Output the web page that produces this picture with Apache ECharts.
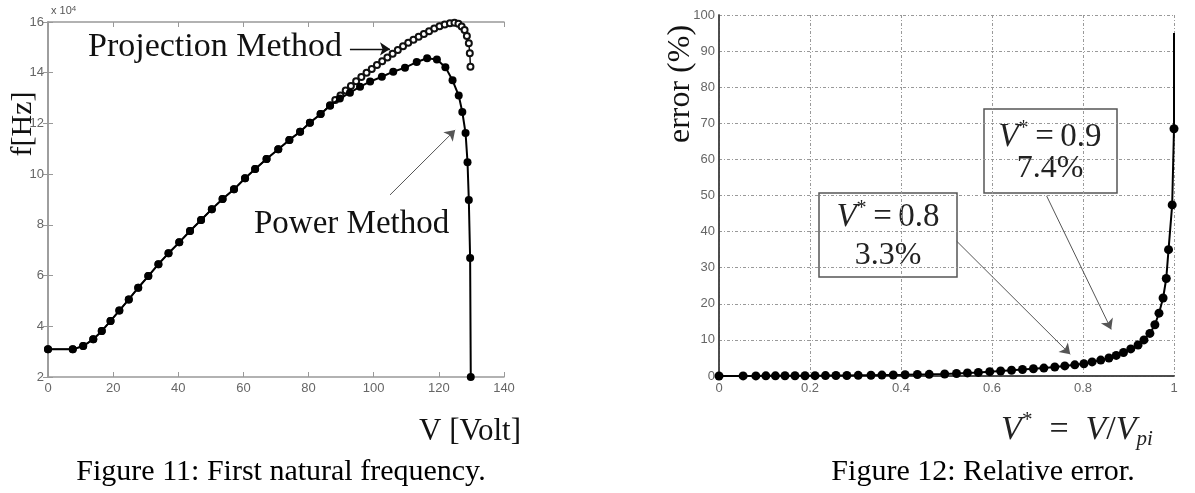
<!DOCTYPE html>
<html>
<head>
<meta charset="utf-8">
<script src="https://cdn.jsdelivr.net/npm/echarts/dist/echarts.min.js"></script>
<style>
html,body{margin:0;padding:0;background:#fff}
#main{width:1195px;height:493px}
</style>
</head>
<body>
<div id="main"></div>
<script>
// Figure 11 : first natural frequency (x 10^4 Hz) against voltage
var powerV = [0, 7.6, 10.8, 13.9, 16.5, 19.2, 21.9, 24.8, 27.7, 30.8, 33.9, 37.0, 40.3, 43.6, 47.0, 50.3, 53.6, 57.1, 60.5, 63.6,
	67.1, 70.7, 74.1, 77.4, 80.4, 83.7, 86.6, 89.6, 92.7, 95.8, 98.9, 102.5, 106.0, 109.6, 113.2, 116.4, 119.4, 122.0, 124.2, 126.1,
	127.2, 128.2, 128.8, 129.2, 129.6, 129.8];
var powerF = [3.09, 3.09, 3.22, 3.49, 3.81, 4.21, 4.62, 5.06, 5.52, 5.98, 6.45, 6.88, 7.31, 7.76, 8.19, 8.62, 9.02, 9.40, 9.84, 10.2,
	10.6, 10.98, 11.35, 11.67, 12.03, 12.37, 12.7, 12.98, 13.21, 13.45, 13.65, 13.84, 14.04, 14.2, 14.42, 14.57, 14.52, 14.22, 13.7, 13.1,
	12.45, 11.62, 10.47, 8.98, 6.69, 2.0];
var projV = [0, 7.6, 10.8, 13.9, 16.5, 19.2, 21.9, 24.8, 27.7, 30.8, 33.9, 37.0, 40.3, 43.6, 47.0, 50.3, 53.6, 57.1, 60.5, 63.6,
	67.1, 70.7, 74.1, 77.4, 80.4, 83.7, 86.6, 88.2, 89.8, 91.4, 93.0, 94.6, 96.2, 97.8, 99.4, 101.0, 102.6, 104.2, 105.8, 107.4,
	109.0, 110.6, 112.2, 113.8, 115.4, 117.0, 118.6, 120.2, 121.8, 123.4, 124.8, 126.0, 127.0, 127.9, 128.6, 129.2, 129.5, 129.7];
var projF = [3.09, 3.09, 3.22, 3.49, 3.81, 4.21, 4.62, 5.06, 5.52, 5.98, 6.45, 6.88, 7.31, 7.76, 8.19, 8.62, 9.02, 9.40, 9.84, 10.2,
	10.6, 10.98, 11.35, 11.67, 12.03, 12.37, 12.72, 12.92, 13.1, 13.3, 13.48, 13.66, 13.83, 14.0, 14.15, 14.3, 14.45, 14.6, 14.75, 14.9,
	15.04, 15.18, 15.3, 15.42, 15.53, 15.64, 15.74, 15.83, 15.9, 15.95, 15.97, 15.93, 15.82, 15.68, 15.45, 15.16, 14.77, 14.24];
var vTicks = [0, 140, 20];
var fTicks = [2, 16, 2];

// Figure 12 : relative error (%) against V* = V/Vpi
var errX = [0, 0.053, 0.081, 0.103, 0.124, 0.145, 0.167, 0.189, 0.211, 0.234, 0.257, 0.281, 0.306, 0.334, 0.358, 0.383, 0.409, 0.436, 0.462, 0.496,
	0.522, 0.546, 0.57, 0.595, 0.619, 0.643, 0.667, 0.691, 0.714, 0.738, 0.76, 0.782, 0.802, 0.82, 0.839, 0.857, 0.873, 0.889, 0.905, 0.921,
	0.934, 0.947, 0.958, 0.967, 0.976, 0.983, 0.988, 0.996, 1.0, 1.0];
var errY = [0, 0.02, 0.03, 0.04, 0.05, 0.06, 0.07, 0.08, 0.1, 0.11, 0.13, 0.15, 0.18, 0.21, 0.25, 0.29, 0.34, 0.4, 0.46, 0.55,
	0.7, 0.85, 1.0, 1.2, 1.4, 1.6, 1.8, 2.0, 2.2, 2.5, 2.8, 3.1, 3.4, 3.9, 4.4, 5.0, 5.7, 6.5, 7.5, 8.6,
	10.0, 11.8, 14.2, 17.4, 21.6, 27.0, 35.0, 47.4, 68.5, 95];
var xTicks = [0, 1, 0.2];
var eTicks = [0, 100, 10];

var SERIF = '"Liberation Serif", "Times New Roman", serif';
var SANS = '"Liberation Sans", Arial, sans-serif';

function pairs(xs, ys){
	var out = [];
	for(var i = 0; i < xs.length; i++){
		out.push([xs[i], ys[i]]);
	}
	return out;
}

var errData = pairs(errX, errY);
// the last point only carries the line to the top, no marker on it
errData[errData.length - 1] = {value: errData[errData.length - 1], symbol: 'none'};

var tickLbl = {color: '#666', fontSize: 13, fontFamily: SANS};

// arrow annotations, drawn as markLines in data coordinates
function arrows(color, width, list){
	return {
		silent: true, symbol: ['none', 'arrow'], symbolSize: 10,
		label: {show: false},
		lineStyle: {color: color, width: width, type: 'solid'},
		data: list
	};
}

// V* label used in the boxes and the axis name
var starRich = {
	i: {fontStyle: 'italic', fontSize: 33, fontFamily: SERIF, fill: '#222', lineHeight: 36},
	p: {fontSize: 20, fontFamily: SERIF, fill: '#222', verticalAlign: 'top', lineHeight: 36}
};

var myChart = echarts.init(document.getElementById('main'));
var option = {
	animation: false,
	grid: [
		{left: 48, top: 22, width: 456, height: 355, show: false},
		{left: 719, top: 15, width: 455, height: 361, show: false}
	],
	xAxis: [{
		gridIndex: 0, type: 'value', min: vTicks[0], max: vTicks[1], interval: vTicks[2],
		axisLine: {lineStyle: {color: '#999', width: 1.5}},
		axisTick: {inside: true, length: 5, lineStyle: {color: '#999'}},
		axisLabel: Object.assign({margin: 5}, tickLbl),
		splitLine: {show: false}
	},{
		gridIndex: 0, type: 'value', position: 'top', min: vTicks[0], max: vTicks[1], interval: vTicks[2],
		axisLine: {lineStyle: {color: '#999', width: 1.5}},
		axisTick: {inside: true, length: 5, lineStyle: {color: '#999'}},
		axisLabel: {show: false},
		splitLine: {show: false}
	},{
		gridIndex: 1, type: 'value', min: xTicks[0], max: xTicks[1], interval: xTicks[2],
		axisLine: {lineStyle: {color: '#444', width: 1.5}},
		axisTick: {show: false},
		axisLabel: Object.assign({margin: 6}, tickLbl),
		splitLine: {show: true, lineStyle: {color: '#999', width: 1, type: [3, 2, 1, 2]}}
	},{
		gridIndex: 1, type: 'value', position: 'top', min: xTicks[0], max: xTicks[1], interval: xTicks[2],
		axisLine: {lineStyle: {color: '#444', width: 1.5}},
		axisTick: {show: false},
		axisLabel: {show: false},
		splitLine: {show: false}
	}],
	yAxis: [{
		gridIndex: 0, type: 'value', min: fTicks[0], max: fTicks[1], interval: fTicks[2],
		axisLine: {show: true, lineStyle: {color: '#999', width: 1.5}},
		axisTick: {show: true, inside: true, length: 5, lineStyle: {color: '#999'}},
		axisLabel: Object.assign({margin: 4}, tickLbl),
		splitLine: {show: false}
	},{
		gridIndex: 0, type: 'value', position: 'right', min: fTicks[0], max: fTicks[1], interval: fTicks[2],
		axisLine: {show: true, lineStyle: {color: '#999', width: 1.5}},
		axisTick: {show: true, inside: true, length: 5, lineStyle: {color: '#999'}},
		axisLabel: {show: false},
		splitLine: {show: false}
	},{
		gridIndex: 1, type: 'value', min: eTicks[0], max: eTicks[1], interval: eTicks[2],
		axisLine: {show: true, lineStyle: {color: '#444', width: 1.5}},
		axisTick: {show: false},
		axisLabel: Object.assign({margin: 4}, tickLbl),
		splitLine: {show: true, lineStyle: {color: '#999', width: 1, type: [3, 2, 1, 2]}}
	},{
		gridIndex: 1, type: 'value', position: 'right', min: eTicks[0], max: eTicks[1], interval: eTicks[2],
		axisLine: {show: true, lineStyle: {color: '#444', width: 1.5}},
		axisTick: {show: false},
		axisLabel: {show: false},
		splitLine: {show: false}
	}],
	series: [{
		name: 'Projection Method',
		type: 'line',
		xAxisIndex: 0, yAxisIndex: 0,
		data: pairs(projV, projF),
		symbol: 'emptyCircle', symbolSize: 6, clip: false,
		itemStyle: {color: '#111', borderWidth: 1.3},
		lineStyle: {color: '#111', width: 1.5},
		z: 2,
		markLine: arrows('#111', 1.3, [[{coord: [92.7, 14.94]}, {coord: [105, 14.94]}]])
	},{
		name: 'Power Method',
		type: 'line',
		xAxisIndex: 0, yAxisIndex: 0,
		data: pairs(powerV, powerF),
		symbol: 'circle', symbolSize: 8, clip: false,
		itemStyle: {color: '#000'},
		lineStyle: {color: '#000', width: 2},
		z: 3,
		markLine: arrows('#555', 1, [[{coord: [105, 9.18]}, {coord: [125, 11.74]}]])
	},{
		name: 'error',
		type: 'line',
		xAxisIndex: 2, yAxisIndex: 2,
		data: errData,
		symbol: 'circle', symbolSize: 9, clip: false,
		itemStyle: {color: '#000'},
		lineStyle: {color: '#000', width: 2},
		z: 3,
		markLine: arrows('#555', 1, [
			[{coord: [0.522, 37.4]}, {coord: [0.772, 6.0]}],
			[{coord: [0.72, 49.9]}, {coord: [0.862, 12.9]}]
		])
	}],
	graphic: [
		// left figure texts
		{type: 'text', left: 51, top: 5, style: {
			text: 'x 10{s|4}', fill: '#555', font: '11px ' + SANS,
			rich: {s: {fontSize: 8, fill: '#555', verticalAlign: 'top', fontFamily: SANS}}
		}},
		{type: 'text', x: 23, y: 124, rotation: Math.PI / 2, style: {
			text: 'f[Hz]', fill: '#111', font: '30px ' + SERIF, align: 'center', verticalAlign: 'middle'
		}},
		{type: 'text', x: 470, y: 432, style: {
			text: 'V [Volt]', fill: '#111', font: '31px ' + SERIF, align: 'center', verticalAlign: 'middle'
		}},
		{type: 'text', x: 88, y: 47, style: {
			text: 'Projection Method', fill: '#111', font: '34px ' + SERIF, align: 'left', verticalAlign: 'middle'
		}},
		{type: 'text', x: 254, y: 224, style: {
			text: 'Power Method', fill: '#111', font: '33px ' + SERIF, align: 'left', verticalAlign: 'middle'
		}},
		{type: 'text', x: 281, y: 472, style: {
			text: 'Figure 11: First natural frequency.', fill: '#000', font: '30px ' + SERIF, align: 'center', verticalAlign: 'middle'
		}},
		// right figure texts
		{type: 'text', x: 681, y: 84, rotation: Math.PI / 2, style: {
			text: 'error (%)', fill: '#111', font: '32px ' + SERIF, align: 'center', verticalAlign: 'middle'
		}},
		{type: 'text', x: 1077, y: 430, style: {
			text: '{i|V}{p|*}\u2002=\u2002{i|V}/{i|V}{b|pi}', fill: '#222', font: '34px ' + SERIF, align: 'center', verticalAlign: 'middle',
			rich: {
				i: {fontStyle: 'italic', fontSize: 34, fontFamily: SERIF, fill: '#222', lineHeight: 40},
				p: {fontSize: 21, fontFamily: SERIF, fill: '#222', verticalAlign: 'top', lineHeight: 40},
				b: {fontStyle: 'italic', fontSize: 21, fontFamily: SERIF, fill: '#222', verticalAlign: 'bottom', lineHeight: 40}
			}
		}},
		{type: 'text', x: 983, y: 472, style: {
			text: 'Figure 12: Relative error.', fill: '#000', font: '30px ' + SERIF, align: 'center', verticalAlign: 'middle'
		}},
		{type: 'rect', shape: {x: 819, y: 193, width: 138, height: 84}, style: {fill: 'none', stroke: '#555', lineWidth: 1.5}},
		{type: 'rect', shape: {x: 984, y: 109, width: 133, height: 84}, style: {fill: 'none', stroke: '#555', lineWidth: 1.5}},
		{type: 'text', x: 888, y: 217, style: {
			text: '{i|V}{p|*}\u2009=\u20090.8', fill: '#222', font: '33px ' + SERIF, align: 'center', verticalAlign: 'middle',
			rich: starRich
		}},
		{type: 'text', x: 888, y: 256, style: {
			text: '3.3%', fill: '#222', font: '32px ' + SERIF, align: 'center', verticalAlign: 'middle'
		}},
		{type: 'text', x: 1050, y: 137, style: {
			text: '{i|V}{p|*}\u2009=\u20090.9', fill: '#222', font: '33px ' + SERIF, align: 'center', verticalAlign: 'middle',
			rich: starRich
		}},
		{type: 'text', x: 1050, y: 169, style: {
			text: '7.4%', fill: '#222', font: '32px ' + SERIF, align: 'center', verticalAlign: 'middle'
		}}
	]
};
myChart.setOption(option);
</script>
</body>
</html>
